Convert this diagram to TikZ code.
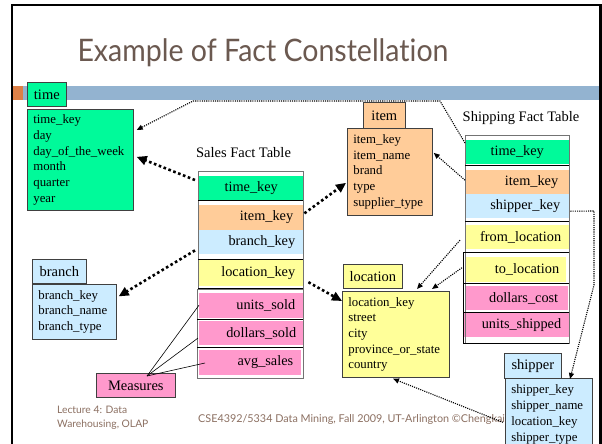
\documentclass[tikz,border=0pt]{standalone}
\usepackage{fontspec}
\setmainfont{Liberation Serif}
\newfontfamily\titlefont[Ligatures=NoCommon]{Lato}
\usetikzlibrary{arrows.meta,calc}
\definecolor{cgreen}{RGB}{0,250,154}
\definecolor{corange}{RGB}{255,204,153}
\definecolor{cblue}{RGB}{204,236,255}
\definecolor{cyellow}{RGB}{255,255,153}
\definecolor{cpink}{RGB}{255,153,204}
\definecolor{bar}{RGB}{147,179,208}
\definecolor{accent}{RGB}{221,128,71}
\definecolor{titlecol}{RGB}{107,89,80}
\definecolor{footcol}{RGB}{140,112,98}
\begin{document}
\begin{tikzpicture}[x=1pt,y=-1pt,
  hdr/.style={draw=black!75, line width=0.7pt, anchor=north west, inner sep=0pt,
    font=\fontsize{14.5}{17}\selectfont},
  lst/.style={draw=black!75, line width=0.7pt, anchor=north west, inner xsep=6pt,
    inner ysep=0pt, align=left, font=\fontsize{12.8}{15.7}\selectfont},
  row/.style={anchor=north west, inner ysep=0pt, font=\fontsize{14.3}{17}\selectfont},
  frame/.style={draw=black!55, line width=0.8pt},
  sep/.style={draw=black, line width=0.8pt},
  thindot/.style={line width=1.1pt, dash pattern=on 1.1pt off 1.1pt, -{Triangle[length=6pt,width=5pt]}},
  thickdot/.style={line width=2.6pt, dash pattern=on 2.6pt off 2.6pt, -{Triangle[length=10pt,width=9pt]}},
  mline/.style={line width=0.6pt}]
\useasboundingbox (0,0) rectangle (602,444);
\clip (0,0) rectangle (602,444);
% slide frame and bar
\fill[white] (0,0) rectangle (602,444);
\fill[accent] (12.5,86) rectangle (22.5,100);
\fill[bar] (22.5,86) rectangle (600,100);
\draw[line width=2.2pt] (11.7,470) -- (11.7,4.7) -- (600.5,4.7) -- (600.5,470);
\node[text=titlecol, font=\titlefont\fontsize{31}{36}\selectfont] (title) at (263,53) {\scalebox{0.92}[1]{Example of Fact Constellation}};
% footer
\node[anchor=north west, align=left, text=footcol, font=\titlefont\fontsize{10.3}{13.5}\selectfont, inner sep=0pt] (foot1) at (57,406) {Lecture 4: Data\\Warehousing, OLAP};
\node[anchor=west, text=footcol, font=\titlefont\fontsize{10.8}{13}\selectfont, inner sep=0pt] (foot2) at (198,420) {CSE4392/5334 Data Mining, Fall 2009, UT-Arlington \textcopyright Chengkai};
% time dimension
\node[hdr, fill=cgreen, minimum width=39pt, minimum height=24pt] (time-h) at (27,82) {time};
\node[lst, fill=cgreen, text width=94pt, minimum height=101pt] (time-b) at (27,109) {time\_key\\day\\day\_of\_the\_week\\month\\quarter\\year};
% item dimension
\node[hdr, fill=corange, minimum width=42pt, minimum height=26pt] (item-h) at (363,102) {item};
\node[lst, fill=corange, text width=73pt, minimum height=87pt] (item-b) at (347,128) {item\_key\\item\_name\\brand\\type\\supplier\_type};
% branch dimension
\node[hdr, fill=cblue, minimum width=54pt, minimum height=24pt] (branch-h) at (32,259) {branch};
\node[lst, fill=cblue, text width=72pt, minimum height=55pt] (branch-b) at (32,284) {branch\_key\\branch\_name\\branch\_type};
% location dimension
\node[hdr, fill=cyellow, minimum width=59pt, minimum height=24pt] (loc-h) at (343,264) {location};
\node[lst, fill=cyellow, text width=95pt, minimum height=86pt] (loc-b) at (342,291) {location\_key\\street\\city\\province\_or\_state\\country};
% Sales fact table
\node[font=\fontsize{14.5}{17}\selectfont] (sales-l) at (243.5,153) {Sales Fact Table};
\node[row, fill=cgreen, inner xsep=0pt, text width=104pt, align=center, minimum height=24.3pt] (s-time) at (199,176) {time\_key};
\node[row, fill=corange, inner xsep=10pt, text width=84pt, align=right, minimum height=24.3pt] (s-item) at (199,205) {item\_key};
\node[row, fill=cblue, inner xsep=8pt, text width=88pt, align=right, minimum height=24.7pt] (s-branch) at (199,229.3) {branch\_key};
\node[row, fill=cyellow, inner xsep=8pt, text width=88pt, align=right, minimum height=26pt] (s-loc) at (199,260) {location\_key};
\node[row, fill=cpink, inner xsep=8pt, text width=88pt, align=right, minimum height=24.6pt] (s-units) at (199,292.7) {units\_sold};
\node[row, fill=cpink, inner xsep=7pt, text width=90pt, align=right, minimum height=24.3pt] (s-dollars) at (199,320.7) {dollars\_sold};
\node[row, fill=cpink, inner xsep=8pt, text width=86pt, align=right, minimum height=25pt] (s-avg) at (199,349.3) {avg\_sales};
\draw[frame] (198,171) rectangle (303,288);
\draw[frame] (197,289.3) rectangle (303,378.3);
\draw[sep] (198,200.7) -- (303,200.7);
\draw[sep] (198,259) -- (303,259);
\draw[sep] (198,288) -- (303,288);
\draw[sep] (197,319) -- (303,319);
\draw[sep] (197,347.3) -- (303,347.3);
% Shipping fact table
\node[font=\fontsize{14.5}{17}\selectfont] (ship-l) at (521,118) {Shipping Fact Table};
\node[row, fill=cgreen, inner xsep=0pt, text width=104pt, align=center, minimum height=24pt] (sh-time) at (465,140) {time\_key};
\node[row, fill=corange, inner xsep=11pt, text width=82pt, align=right, minimum height=24pt] (sh-item) at (465,170) {item\_key};
\node[row, fill=cblue, inner xsep=9pt, text width=86pt, align=right, minimum height=24pt] (sh-shipper) at (465,194) {shipper\_key};
\node[row, fill=cyellow, inner xsep=8pt, text width=88pt, align=right, minimum height=24pt] (sh-from) at (465,225) {from\_location};
\node[row, fill=cyellow, inner xsep=7pt, text width=87pt, align=right, minimum height=25pt] (sh-to) at (465,257) {to\_location};
\node[row, fill=cpink, inner xsep=10pt, text width=82pt, align=right, minimum height=24pt] (sh-cost) at (466,286) {dollars\_cost};
\node[row, fill=cpink, inner xsep=8pt, text width=89pt, align=right, minimum height=24pt] (sh-units) at (464,313) {units\_shipped};
\draw[frame] (465,135) rectangle (569,343);
\draw[sep] (465,165) -- (569,165);
\draw[sep] (465,221.5) -- (569,221.5);
\draw[sep] (463,252.3) -- (569,252.3);
\draw[sep] (463,283) -- (569,283);
\draw[sep] (463,312) -- (569,312);
\draw[sep] (463,252.3) -- (463,343) -- (569,343);
% Measures
\node[anchor=north west, draw=black!75, line width=0.7pt, fill=cpink, minimum width=79pt, minimum height=24pt, inner sep=0pt, font=\fontsize{14.5}{17}\selectfont] (measures) at (96,373) {Measures};
\coordinate (mp) at ($(measures.north west)+(51,3)$);
\draw[mline] (mp) -- (s-units.west);
\draw[mline] (mp) -- ($(s-dollars.west)+(-1,5)$);
\draw[mline] (mp) -- ($(s-avg.west)+(6,1)$);
% shipper dimension (covers footer end)
\node[hdr, fill=cblue, minimum width=57pt, minimum height=25pt] (ship-h) at (504,353) {shipper};
\node[lst, fill=cblue, text width=75pt, minimum height=72pt, font=\fontsize{12.8}{16}\selectfont] (ship-b) at (505,378) {shipper\_key\\shipper\_name\\location\_key\\shipper\_type};
% connectors
\draw[thickdot] ($(s-time.north west)+(-4,4)$) -- ($(time-b.east)+(3,-3)$);
\coordinate (c1) at (440,101);
\coordinate (c2) at (193,101);
\draw[thindot] ($(sh-time.north west)+(0,3)$) -- (c1) -- (c2) -- ($(time-b.north east)+(3,21)$);
\draw[thickdot] ($(s-item.east)+(1,-4)$) -- ($(item-b.west)+(-1,11)$);
\draw[thindot] ($(sh-item.west)+(0,-2)$) -- ($(item-b.east)+(1,-19)$);
\draw[thickdot] ($(s-branch.south west)+(-4,-4)$) -- ($(branch-b.east)+(2,-15.5)$);
\draw[thickdot] ($(s-loc.east)+(5,9)$) -- ($(loc-b.north west)+(0,10)$);
\draw[thindot] ($(sh-from.west)+(-5,3)$) -- ($(loc-b.north west)+(75,-2)$);
\draw[thindot] ($(sh-to.west)+(-3,-2)$) -- ($(loc-b.north west)+(90,-2)$);
\coordinate (c3) at (594,211);
\coordinate (c4) at (594,285);
\draw[thindot] ($(sh-shipper.east)+(1,5)$) -- (c3) -- (c4) -- ($(ship-b.north west)+(65,1)$);
\draw[thindot] ($(ship-b.west)+(-2,8)$) -- ($(loc-b.south west)+(51,1)$);
\end{tikzpicture}
\end{document}
